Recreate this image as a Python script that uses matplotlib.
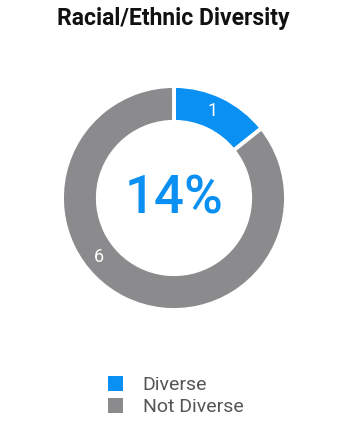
import numpy as np
import matplotlib
matplotlib.use("Agg")
import matplotlib.pyplot as plt
from matplotlib.patches import Patch

categories = ["Diverse", "Not Diverse"]
values = [1, 6]
colors = ["#0A90F2", "#8B8B8D"]
title = "Racial/Ethnic Diversity"
center_text = "14%"

plt.rcParams['font.family'] = ['Roboto', 'DejaVu Sans']

fig = plt.figure(figsize=(3.44, 4.32), dpi=100)
ax = fig.add_axes([62/344, 1-310/432, 224/344, 224/432])
wedges, _ = ax.pie(values, colors=colors, startangle=90, counterclock=False,
                   radius=1.0, wedgeprops=dict(width=0.32, edgecolor="white", linewidth=2.8))
ax.set_xlim(-1, 1)
ax.set_ylim(-1, 1)
ax.set_aspect("equal")
ax.axis("off")

# slice labels
label_angles = [66, 218]
for v, a in zip(values, label_angles):
    r = 0.85
    ax.text(r*np.cos(np.radians(a)), r*np.sin(np.radians(a)), str(v),
            color="white", fontsize=13, ha="center", va="center")

ax.text(0, -0.01, center_text, color=colors[0], fontsize=38, fontweight="medium",
        ha="center", va="center")

fig.text(0.505, 1-19/432, title, fontsize=16.5, fontweight="bold", ha="center", va="center", color="#111111")

handles = [Patch(facecolor=c, edgecolor="none") for c in colors]
fig.legend(handles, categories, loc="center", bbox_to_anchor=(0.51, 1-396/432),
           frameon=False, fontsize=14, handlelength=0.8, handleheight=0.8,
           handletextpad=1.0, labelspacing=0.22, labelcolor="#555555")

fig.savefig("out.png", dpi=100)
